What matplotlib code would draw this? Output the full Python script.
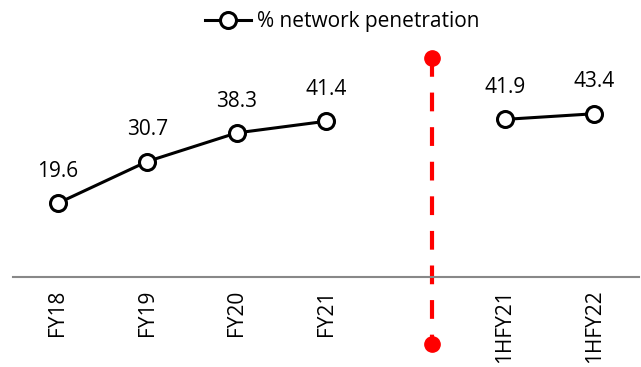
import numpy as np
import matplotlib
matplotlib.use("Agg")
import matplotlib.pyplot as plt

categories = ["FY18", "FY19", "FY20", "FY21", "", "1HFY21", "1HFY22"]
values = [19.6, 30.7, 38.3, 41.4, np.nan, 41.9, 43.4]
series_name = "% network penetration"

plt.rcParams['font.family'] = ['Open Sans', 'DejaVu Sans']
FS = 15

fig = plt.figure(figsize=(6.41, 3.67), dpi=100)
W, H = 641, 367
left_px, right_px = 13, 639
top_px, bottom_px = 37, 277
ax = fig.add_axes([left_px / W, 1 - bottom_px / H, (right_px - left_px) / W, (bottom_px - top_px) / H])

x = np.arange(len(categories))
ax.plot(x, values, color='black', lw=2.2, marker='o', ms=11.5, mfc='white', mec='black', mew=2.2,
        label=series_name, zorder=3)
for xi, v in zip(x, values):
    if not np.isnan(v):
        ax.annotate(f"{v:.1f}", (xi, v), xytext=(0, 19), textcoords='offset points',
                    ha='center', va='baseline', fontsize=FS)

ax.set_xlim(-0.5, len(categories) - 0.5)
ax.set_ylim(0, 63.8)

# divider
xd = 4.19
ax.plot([xd, xd], [58.2, -17.9], color='red', lw=3, ls=(0, (4.5, 3.8)), clip_on=False, zorder=2)
ax.plot([xd, xd], [58.2, -17.9], color='red', lw=0, marker='o', ms=11, clip_on=False, zorder=4)

for s in ['top', 'right', 'left']:
    ax.spines[s].set_visible(False)
ax.spines['bottom'].set_color('#888888')
ax.spines['bottom'].set_linewidth(1.5)
ax.set_yticks([])
ax.set_xticks(x)
ax.set_xticklabels(categories, rotation=90, fontsize=FS, va='top')
ax.tick_params(axis='x', length=0, pad=9)

leg = ax.legend(loc='center', bbox_to_anchor=(342 / W, 1 - 22 / H), bbox_transform=fig.transFigure,
                frameon=False, fontsize=FS, handlelength=2.2, handletextpad=0.3, borderpad=0)

fig.savefig("out.png", dpi=100)
